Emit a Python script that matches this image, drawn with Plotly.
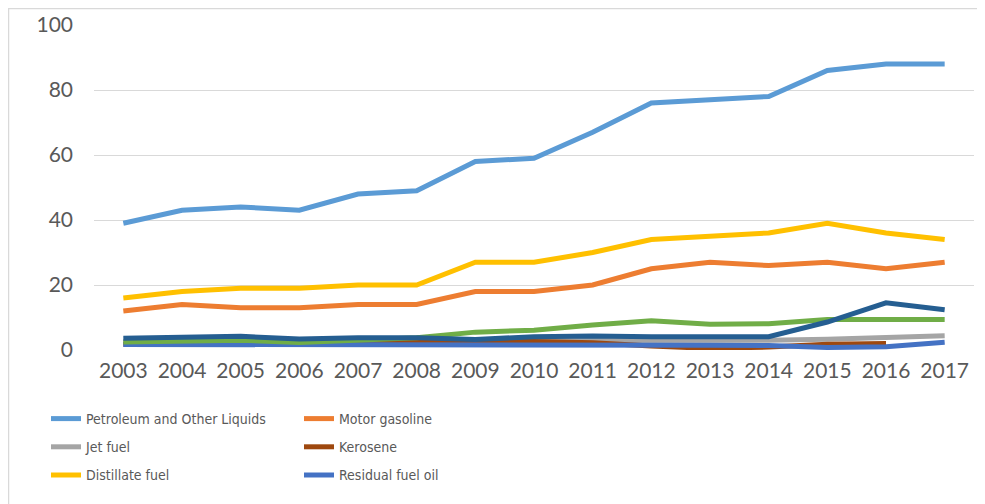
import plotly.graph_objects as go

years = [str(y) for y in range(2003, 2018)]

petroleum = [39, 43, 44, 43, 48, 49, 58, 59, 67, 76, 77, 78, 86, 88, 88]
motor_gasoline = [12, 14, 13, 13, 14, 14, 18, 18, 20, 25, 27, 26, 27, 25, 27]
jet_fuel = [2.5, 2.6, 2.7, 2.6, 2.8, 2.9, 2.8, 2.9, 2.9, 2.9, 3.1, 3.0, 3.3, 3.8, 4.4]
kerosene = [1.8, 2.0, 2.1, 2.2, 2.4, 2.6, 2.8, 2.6, 2.2, 1.2, 0.5, 0.9, 1.8, 2.0, None]
distillate = [16, 18, 19, 19, 20, 20, 27, 27, 30, 34, 35, 36, 39, 36, 34]
residual = [1.7, 1.7, 1.8, 1.8, 1.7, 1.7, 1.5, 1.5, 1.8, 1.5, 1.5, 1.4, 0.8, 1.0, 2.4]
other_green = [2.5, 2.8, 3.0, 2.3, 3.2, 3.8, 5.5, 6.1, 7.7, 9.0, 7.9, 8.1, 9.4, 9.4, 9.4]
other_dark = [3.6, 3.8, 4.2, 3.4, 3.8, 3.8, 3.2, 4.1, 4.3, 4.1, 4.1, 4.1, 8.6, 14.5, 12.4]

series = [
    ("Petroleum and Other Liquids", petroleum, "#5B9BD5", "legend", True),
    ("Motor gasoline", motor_gasoline, "#ED7D31", "legend2", True),
    ("Jet fuel", jet_fuel, "#A5A5A5", "legend", True),
    ("Kerosene", kerosene, "#9E480E", "legend2", True),
    ("Distillate fuel", distillate, "#FFC000", "legend", True),
    ("Residual fuel oil", residual, "#4472C4", "legend2", True),
    ("Other", other_green, "#70AD47", "legend", False),
    ("Other 2", other_dark, "#255E91", "legend", False),
]

y_ticks = [0, 20, 40, 60, 80, 100]

fig = go.Figure()
for i, (name, vals, color, leg, show) in enumerate(series):
    fig.add_trace(go.Scatter(
        x=years, y=vals, name=name, mode="lines",
        line=dict(color=color, width=5, shape="linear"),
        legend=leg, showlegend=show, legendgroup=f"g{i}",
        connectgaps=False,
    ))

# page body has an 8px margin; figure sized to fit inside the window
W, H = 977, 496
L, R, T, B = 86, 11, 17, 154
PW, PH = W - L - R, H - T - B

legend_font = dict(family="DejaVu Sans Condensed, Liberation Sans Narrow, sans-serif",
                   size=14, color="#595959")

def px_x(px):
    return (px - L) / PW

def px_y(py):
    return (H - B - py) / PH

fig.update_layout(
    width=W, height=H,
    margin=dict(l=L, r=R, t=T, b=B, pad=0, autoexpand=False),
    paper_bgcolor="white", plot_bgcolor="white",
    font=dict(family="Lato, Carlito, sans-serif", color="#595959"),
    xaxis=dict(
        type="category", range=[-0.5, 14.5], showgrid=False, zeroline=False,
        showline=False, ticks="", tickangle=0, automargin=False,
        tickfont=dict(size=21, color="#595959"), ticklabelstandoff=6,
    ),
    yaxis=dict(
        range=[0, 100], tickvals=y_ticks, showgrid=True, gridcolor="#D9D9D9",
        gridwidth=1, zeroline=False, showline=False, ticks="", automargin=False,
        tickfont=dict(size=21, color="#595959"), ticklabelstandoff=20,
    ),
    legend=dict(
        orientation="v", xref="paper", yref="paper",
        x=px_x(38), xanchor="left", y=px_y(395), yanchor="top",
        font=legend_font, tracegroupgap=7, bgcolor="rgba(0,0,0,0)",
        itemwidth=30,
    ),
    legend2=dict(
        orientation="v", xref="paper", yref="paper",
        x=px_x(291), xanchor="left", y=px_y(395), yanchor="top",
        font=legend_font, tracegroupgap=7, bgcolor="rgba(0,0,0,0)",
        itemwidth=30,
    ),
    shapes=[dict(
        type="rect", xref="paper", yref="paper",
        x0=px_x(0.5), x1=1.2, y0=-0.8, y1=px_y(0.5),
        line=dict(color="#D9D9D9", width=1.5), fillcolor="rgba(0,0,0,0)",
        layer="below",
    )],
)

fig.write_html("out.html")
